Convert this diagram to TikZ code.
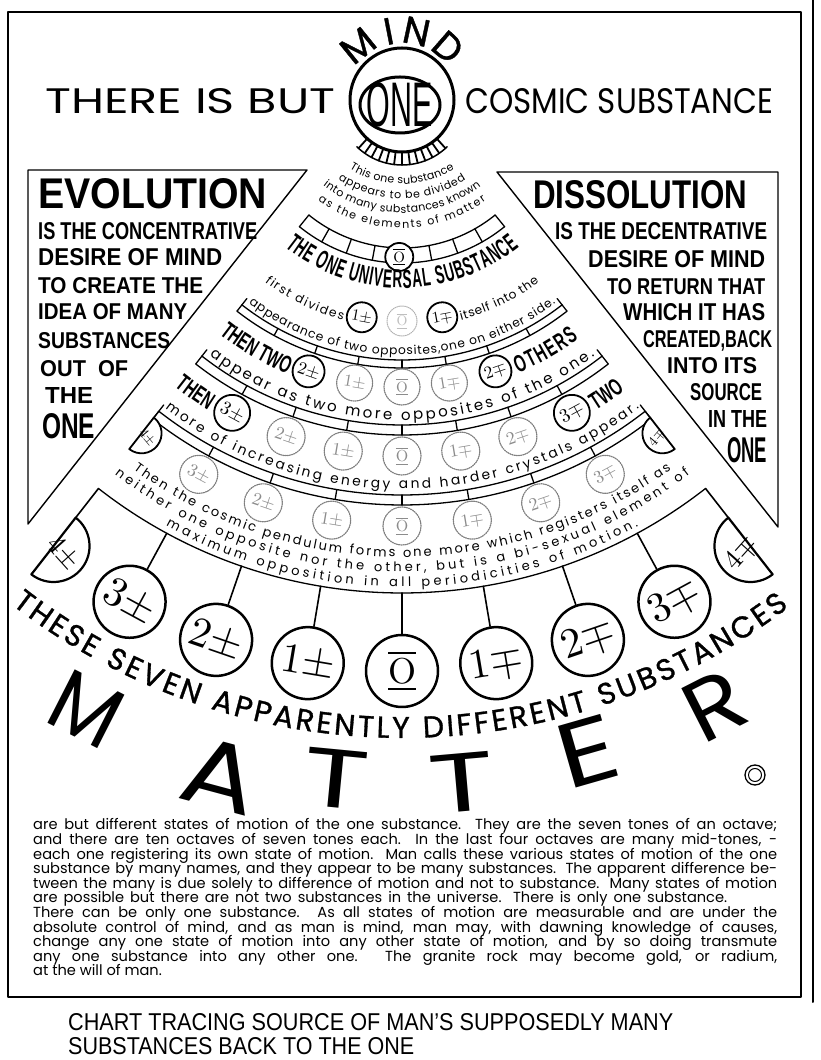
\documentclass[tikz,border=0pt]{standalone}
\usepackage{fontspec}
\usepackage{graphicx}
\usetikzlibrary{decorations.text,calc}
\newfontfamily\pop{Poppins}
\newfontfamily\popm{Poppins}[FakeBold=1]
\newfontfamily\lib{Liberation Sans}
\newfontfamily\condb{Liberation Sans}[FakeStretch=0.62]
\newfontfamily\condc{Liberation Sans}[FakeStretch=0.52]
\newcommand\fsz[1]{\fontsize{#1}{#1}\selectfont}
\newcommand\fA{\pop\fsz{11}}
\newcommand\fB{\condc\bfseries\fsz{26}}
\newcommand\fC{\pop\fsz{12.2}}
\newcommand\fD{\pop\fsz{15}}
\newcommand\fE{\pop\fsz{13.8}}
\newcommand\fF{\pop\fsz{13}}
\newcommand\fG{\condb\bfseries\fsz{24}}
\newcommand\fH{\popm\fsz{30}}
\newcommand\fbody{\pop\fsz{14.6}}
\newcommand\obar{\underline{\overline{\mathrm{O}}}}
\newcommand\fitt[3]{\resizebox{#1pt}{#2pt}{#3}}
\newcommand\farc[4][]{\draw[#1] ({270+#3}:#2) arc[start angle={270+#3},end angle={270+#4},radius=#2];}
\newcommand\tarc[5]{\path[decorate,decoration={text along path,text={|#4|#5},text align={fit to path}}] ({270+#2}:#1) arc[start angle={270+#2},end angle={270+#3},radius=#1];}
\tikzset{
  arcl/.style={line width=1.3pt},
  solidc/.style={draw,circle,inner sep=0pt,line width=1.8pt,fill=white},
  dotc/.style={draw=black!50,circle,inner sep=0pt,densely dotted,line width=1.2pt,text=black!45,fill=white},
  faintc/.style={draw=black!30,circle,inner sep=0pt,densely dotted,line width=1pt,text=black!25,fill=white},
  bigc/.style={draw,circle,inner sep=0pt,line width=2.5pt,minimum size=72pt,fill=white},
  lbl/.style={inner sep=0pt,anchor=north west},
  halfc/.style={line width=2.2pt,fill=white},
  bodyl/.style={inner sep=0pt,anchor=base west},
  bigletter/.style={inner sep=0pt},
}
\newcommand\ladder[2]{%
  \farc[arcl]{#1}{-38}{38}\farc[arcl]{#2}{-38}{38}%
  \foreach \p in {-38,-28.5,-19,-9.5,0,9.5,19,28.5,38}{\draw[arcl] ({270+\p}:#1) -- ({270+\p}:#2);}%
  \draw[arcl] ({270-38}:#1) -- ({270-38}:{#1-8});%
  \draw[arcl] ({270+38}:#1) -- ({270+38}:{#1-8});}
\begin{document}
\begin{tikzpicture}[x=1pt,y=1pt,line cap=round,line join=round]
\useasboundingbox (0,0) rectangle (820,1060);
\fill[white] (0,0) rectangle (820,1060);
% frame
\draw[line width=1.6pt] (8,63) rectangle (801,1048);
\draw[line width=2pt] (813,58) -- (813,1060);
% title
\node[lbl] (title1) at (45,972) {\fitt{290}{25}{\pop THERE IS BUT}};
\node[lbl] (title2) at (465,972) {\fitt{308}{25}{\pop COSMIC SUBSTANCE}};
% triangles
\draw[line width=1.4pt] (28,890) -- (307,890) -- (28,536) -- cycle;
\draw[line width=1.4pt] (497,888) -- (778,888) -- (778,533) -- cycle;
% evolution text
\node[lbl] (ev0) at (38,882) {\fitt{229}{30}{\lib\bfseries EVOLUTION}};
\node[lbl] (ev1) at (38,838) {\fitt{219}{17}{\lib\bfseries IS THE CONCENTRATIVE}};
\node[lbl] (ev2) at (38,812) {\fitt{184}{17}{\lib\bfseries DESIRE OF MIND}};
\node[lbl] (ev3) at (38,783) {\fitt{165}{16}{\lib\bfseries TO CREATE THE}};
\node[lbl] (ev4) at (38,757) {\fitt{149}{16}{\lib\bfseries IDEA OF MANY}};
\node[lbl] (ev5) at (38,728) {\fitt{132}{16}{\lib\bfseries SUBSTANCES}};
\node[lbl] (ev6) at (40,700) {\fitt{88}{16}{\lib\bfseries OUT\ \ OF}};
\node[lbl] (ev7) at (45,673) {\fitt{48}{16}{\lib\bfseries THE}};
\node[lbl] (ev8) at (42,647) {\fitt{53}{25}{\lib\bfseries ONE}};
% dissolution text
\node[lbl] (ds0) at (533,880) {\fitt{214}{28}{\lib\bfseries DISSOLUTION}};
\node[lbl] (ds1) at (555,838) {\fitt{212}{17}{\lib\bfseries IS THE DECENTRATIVE}};
\node[lbl] (ds2) at (588,810) {\fitt{177}{17}{\lib\bfseries DESIRE OF MIND}};
\node[lbl] (ds3) at (607,782) {\fitt{158}{16}{\lib\bfseries TO RETURN THAT}};
\node[lbl] (ds4) at (623,757) {\fitt{142}{17}{\lib\bfseries WHICH IT HAS}};
\node[lbl] (ds5) at (643,730) {\fitt{129}{17}{\lib\bfseries CREATED,BACK}};
\node[lbl] (ds6) at (667,703) {\fitt{90}{16}{\lib\bfseries INTO ITS}};
\node[lbl] (ds7) at (690,677) {\fitt{72}{17}{\lib\bfseries SOURCE}};
\node[lbl] (ds8) at (708,650) {\fitt{59}{17}{\lib\bfseries IN THE}};
\node[lbl] (ds9) at (727,623) {\fitt{40}{25}{\lib\bfseries ONE}};
% ===== fan =====
\begin{scope}[shift={(402,960)}]
\node[circle,draw,line width=3pt,minimum size=104pt,inner sep=0pt] (one) at (0,0) {};
\draw[line width=3pt] (-2,-5) ellipse [x radius=40, y radius=28];
\node[inner sep=0pt] (onetxt) at (-2,-5) {\fitt{66}{44}{\condb ONE}};
\foreach \a/\l in {129/M,101/I,78/N,49/D}{\node[rotate=\a-90,font=\popm\fsz{38},inner sep=0pt] (m\l) at (\a:70) {\l};}
\foreach \p in {-42,-35,...,42}{\draw[line width=1.8pt] ({270+\p}:53) -- ({270+\p}:65);}
\farc[line width=1.5pt]{65}{-44}{44}
\begin{scope}[shift={(0,15)}]
\tarc{99}{-32}{32}{\fA}{This one substance}
\tarc{114}{-34}{34}{\fA}{appears to be divided}
\tarc{128}{-38}{38}{\fA}{into many substances known}
\tarc{143}{-36}{36}{\fA}{as the elements of matter}
\end{scope}
% band A
\farc[arcl]{148}{-39}{39}\farc[arcl]{163}{-39}{39}
\foreach \p in {-39,-29.5,-20,-10.5,10.5,20,29.5,39}{\draw[arcl] ({270+\p}:148) -- ({270+\p}:163);}
\node[solidc,minimum size=28pt] (o0) at ({270-1}:157) {\scalebox{1.5}{$\obar$}};
\tarc{188}{-38.5}{38.5}{\fB}{THE ONE UNIVERSAL SUBSTANCE}
% level 1
\tarc{228}{-37}{-15}{\fC}{first divides}
\tarc{228}{15}{37}{\fC}{itself into the}
\node[solidc,minimum size=30pt,rotate=-10.5] (l1a) at ({270-10.5}:221) {\scalebox{1.6}{$1\pm$}};
\node[faintc,minimum size=30pt] (l1b) at (270:221) {\scalebox{1.4}{$\obar$}};
\node[solidc,minimum size=30pt,rotate=10.5] (l1c) at ({270+10.5}:221) {\scalebox{1.6}{$1\mp$}};
% ladder B
\ladder{260}{268}
\tarc{255}{-37}{37}{\fC}{appearance of two opposites,one on either side.}
% level 2
\tarc{297}{-38}{-23}{\fG}{THEN TWO}
\tarc{297}{23}{36.5}{\fG}{OTHERS}
\node[solidc,minimum size=32pt,rotate=-19] (l2a) at ({270-19}:287) {\scalebox{1.75}{$2\pm$}};
\node[dotc,minimum size=36pt,rotate=-9.5] (l2b) at ({270-9.5}:287) {\scalebox{1.7}{$1\pm$}};
\node[dotc,minimum size=36pt] (l2c) at (270:287) {\scalebox{1.5}{$\obar$}};
\node[dotc,minimum size=36pt,rotate=9.5] (l2d) at ({270+9.5}:287) {\scalebox{1.7}{$1\mp$}};
\node[solidc,minimum size=32pt,rotate=19] (l2e) at ({270+19}:287) {\scalebox{1.75}{$2\mp$}};
% ladder C
\ladder{325}{335}
\tarc{320}{-37}{37}{\fD}{appear as two more opposites of the one.}
% level 3
\tarc{366}{-38.5}{-32}{\fG}{THEN}
\tarc{366}{32}{37.5}{\fG}{TWO}
\node[solidc,minimum size=36pt,rotate=-28.5] (l3a) at ({270-28.5}:356) {\scalebox{1.9}{$3\pm$}};
\node[dotc,minimum size=38pt,rotate=-19] (l3b) at ({270-19}:356) {\scalebox{1.8}{$2\pm$}};
\node[dotc,minimum size=38pt,rotate=-9.5] (l3c) at ({270-9.5}:356) {\scalebox{1.8}{$1\pm$}};
\node[dotc,minimum size=38pt] (l3d) at (270:356) {\scalebox{1.6}{$\obar$}};
\node[dotc,minimum size=38pt,rotate=9.5] (l3e) at ({270+9.5}:356) {\scalebox{1.8}{$1\mp$}};
\node[dotc,minimum size=38pt,rotate=19] (l3f) at ({270+19}:356) {\scalebox{1.8}{$2\mp$}};
\node[solidc,minimum size=36pt,rotate=28.5] (l3g) at ({270+28.5}:356) {\scalebox{1.9}{$3\mp$}};
% ladder D
\ladder{395}{405}
\tarc{389}{-37.5}{37.5}{\fE}{more of increasing energy and harder crystals appear.}
% small half circles
\draw[arcl] (232:395) -- (232:403);
\draw[arcl] (308:395) -- (308:403);
\draw[halfc,line width=1.8pt] (232:443) arc[start angle=232,end angle=412,radius=20] -- cycle;
\draw[halfc,line width=1.8pt] (308:443) arc[start angle=308,end angle=128,radius=20] -- cycle;
\node[rotate=-50,inner sep=0pt] (h1) at ($(232:423)+(322:7)$) {\scalebox{1.4}{$4\pm$}};
\node[rotate=50,inner sep=0pt] (h2) at ($(308:423)+(218:7)$) {\scalebox{1.4}{$4\mp$}};
% level 4
\node[dotc,minimum size=38pt,rotate=-28.5] (l4a) at ({270-28.5}:426) {\scalebox{1.8}{$3\pm$}};
\node[dotc,minimum size=38pt,rotate=-19] (l4b) at ({270-19}:426) {\scalebox{1.8}{$2\pm$}};
\node[dotc,minimum size=38pt,rotate=-9.5] (l4c) at ({270-9.5}:426) {\scalebox{1.8}{$1\pm$}};
\node[dotc,minimum size=38pt] (l4d) at (270:426) {\scalebox{1.6}{$\obar$}};
\node[dotc,minimum size=38pt,rotate=9.5] (l4e) at ({270+9.5}:426) {\scalebox{1.8}{$1\mp$}};
\node[dotc,minimum size=38pt,rotate=19] (l4f) at ({270+19}:426) {\scalebox{1.8}{$2\mp$}};
\node[dotc,minimum size=38pt,rotate=28.5] (l4g) at ({270+28.5}:426) {\scalebox{1.8}{$3\mp$}};
% bottom bracket text
\tarc{457}{-36}{36}{\fF}{Then the cosmic pendulum forms one more which registers itself as}
\tarc{472}{-37.5}{37.5}{\fF}{neither one opposite nor the other, but is a bi-sexual element of}
\tarc{487}{-29}{29}{\fF}{maximum opposition in all periodicities of motion.}
\farc[arcl]{493}{-38}{38}
\draw[line width=1.6pt] (232:493) -- (232:530);
\draw[line width=1.6pt] (308:493) -- (308:530);
\draw[halfc] (232:602) arc[start angle=232,end angle=412,radius=36] -- cycle;
\draw[halfc] (308:602) arc[start angle=308,end angle=128,radius=36] -- cycle;
\node[rotate=-48,inner sep=0pt] (h3) at ($(232:566)+(322:12)$) {\scalebox{2.8}{$4\pm$}};
\node[rotate=48,inner sep=0pt] (h4) at ($(308:566)+(218:12)$) {\scalebox{2.8}{$4\mp$}};
% bottom row
\foreach \p/\n/\l/\s in {-28.5/1/3\pm/4.2,-19/2/2\pm/4.2,-9.5/3/1\pm/4.2,0/4/\obar/3.6,9.5/5/1\mp/4.2,19/6/2\mp/4.2,28.5/7/3\mp/4.2}{
  \coordinate (s\n) at ({270+\p}:493);
  \node[bigc,rotate=\p] (b\n) at ({270+\p}:571) {\scalebox{\s}{$\l$}};
  \draw[line width=1.6pt] (s\n) -- (b\n);
}
\tarc{638}{-37.7}{37.3}{\fH}{THESE SEVEN APPARENTLY DIFFERENT SUBSTANCES}
\end{scope}
% MATTER
\node[bigletter,rotate=-27] (mt1) at (86,351) {\fitt{68}{60}{\pop M}};
\node[bigletter,rotate=-15] (mt2) at (221,285) {\fitt{76}{66}{\pop A}};
\node[bigletter,rotate=-5.5] (mt3) at (336,281) {\fitt{66}{58}{\pop T}};
\node[bigletter,rotate=5] (mt4) at (462,277) {\fitt{66}{58}{\pop T}};
\node[bigletter,rotate=16] (mt5) at (588,309) {\fitt{60}{64}{\pop E}};
\node[bigletter,rotate=27] (mt6) at (715,354) {\fitt{58}{60}{\pop R}};
% copyright mark
\draw[line width=1.3pt] (755,285) circle (10);
\draw[line width=1pt] (755,285) circle (6.5);
% body text
\node[bodyl] (p1) at (33,230) {\fbody\makebox[744pt][s]{are but different states of motion of the one substance. They are the seven tones of an octave;}};
\node[bodyl] (p2) at (33,215.4) {\fbody\makebox[744pt][s]{and there are ten octaves of seven tones each. In the last four octaves are many mid-tones, -}};
\node[bodyl] (p3) at (33,200.8) {\fbody\makebox[744pt][s]{each one registering its own state of motion. Man calls these various states of motion of the one}};
\node[bodyl] (p4) at (33,186.2) {\fbody\makebox[744pt][s]{substance by many names, and they appear to be many substances. The apparent difference be-}};
\node[bodyl] (p5) at (33,171.6) {\fbody\makebox[744pt][s]{tween the many is due solely to difference of motion and not to substance. Many states of motion}};
\node[bodyl] (p6) at (33,157) {\fbody\makebox[694pt][s]{are possible but there are not two substances in the universe. There is only one substance.}};
\node[bodyl] (p7) at (33,142.4) {\fbody\makebox[744pt][s]{There can be only one substance. As all states of motion are measurable and are under the}};
\node[bodyl] (p8) at (33,127.8) {\fbody\makebox[744pt][s]{absolute control of mind, and as man is mind, man may, with dawning knowledge of causes,}};
\node[bodyl] (p9) at (33,113.2) {\fbody\makebox[744pt][s]{change any one state of motion into any other state of motion, and by so doing transmute}};
\node[bodyl] (p10) at (33,98.6) {\fbody\makebox[744pt][s]{any one substance into any other one. The granite rock may become gold, or radium,}};
\node[bodyl] (p11) at (33,84) {\fbody at the will of man.};
% caption
\node[lbl] (cap1) at (68,47) {\fitt{605}{17}{\lib CHART TRACING SOURCE OF MAN’S SUPPOSEDLY MANY}};
\node[lbl] (cap2) at (68,23) {\fitt{346}{17}{\lib SUBSTANCES BACK TO THE ONE}};
\end{tikzpicture}
\end{document}
